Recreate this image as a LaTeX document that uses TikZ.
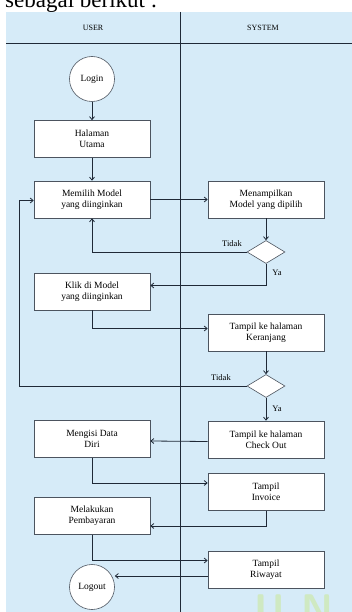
\documentclass[tikz,border=0pt]{standalone}
\usepackage{fontspec}
\setmainfont{Liberation Serif}
\usetikzlibrary{shapes.geometric}
\usetikzlibrary{arrows.meta}

\definecolor{lanebg}{HTML}{D6EBF8}
\definecolor{garis}{HTML}{1F2937}
\definecolor{tanda}{HTML}{CFE9C2}

\tikzset{
  proses/.style={draw=garis!80, line width=0.6pt, fill=white, minimum width=116pt, minimum height=37pt, align=center, inner sep=1pt, font=\fontsize{9.5}{11}\selectfont},
  terminal/.style={circle, draw=garis!80, line width=0.6pt, fill=white, minimum size=45pt, inner sep=0pt, font=\fontsize{9.5}{11}\selectfont},
  keputusan/.style={diamond, draw=garis!80, line width=0.6pt, fill=white, minimum width=38pt, minimum height=23pt, inner sep=0pt},
  alur/.style={draw=garis, line width=0.8pt, -{Straight Barb[length=3pt,width=5pt]}},
  ket/.style={font=\fontsize{8.5}{10}\selectfont, inner sep=1pt},
  logohuruf/.style={font=\fontsize{40}{42}\selectfont\sffamily\bfseries, text=tanda, anchor=base, inner sep=0pt}
}

\begin{document}
\begin{tikzpicture}[x=1pt,y=-1pt]
  \useasboundingbox (0,0) rectangle (352,612);
  \clip (0,0) rectangle (352,612);
  \fill[white] (0,0) rectangle (352,612);
  \node[anchor=base west, inner sep=0pt, font=\fontsize{23}{26}\selectfont] (judul) at (5,8) {sebagai berikut :};
  \fill[lanebg] (6,12) rectangle (352,612);
  \node[logohuruf] (logou) at (270,622) {U};
  \node[logohuruf] (logon) at (317,622) {N};

  % swimlane
  \node[font=\fontsize{8}{9}\selectfont] (user) at (93,28) {USER};
  \node[font=\fontsize{8}{9}\selectfont] (system) at (263,28) {SYSTEM};
  \draw[garis, line width=1pt] (6,43.5) -- (352,43.5);
  \draw[garis, line width=1pt] (180,12) -- (180,612);

  \node[terminal] (login) at (92,79) {Login};
  \node[proses] (utama) at (92,139) {Halaman\\Utama};
  \node[proses] (memilih) at (92,199.5) {Memilih Model\\yang diinginkan};
  \node[proses] (tampilmodel) at (266,199.5) {Menampilkan\\Model yang dipilih};
  \node[keputusan] (cek1) at (266,252) {};
  \node[proses] (klik) at (92,291.5) {Klik di Model\\yang diinginkan};
  \node[proses] (keranjang) at (266,332.5) {Tampil ke halaman\\Keranjang};
  \node[keputusan] (cek2) at (266,386) {};
  \node[proses] (checkout) at (266,439.5) {Tampil ke halaman\\Check Out};
  \node[proses] (mengisi) at (92,439) {Mengisi Data\\Diri};
  \node[proses] (invoice) at (266,492) {Tampil\\Invoice};
  \node[proses] (bayar) at (92,516) {Melakukan\\Pembayaran};
  \node[proses] (riwayat) at (266,569.5) {Tampil\\Riwayat};
  \node[terminal] (logout) at (92,587) {Logout};
  \coordinate (kiri) at (19,0);

  \draw[alur] (login) -- (utama);
  \draw[alur] (utama) -- (memilih);
  \draw[alur] (memilih) -- (tampilmodel);
  \draw[alur] (tampilmodel) -- (cek1);
  \draw[alur] (cek1.west) -| (memilih.south);
  \draw[alur] (cek1.south) |- ([yshift=6pt]klik.east);
  \draw[alur] (klik.south) |- ([yshift=4pt]keranjang.west);
  \draw[alur] (keranjang) -- (cek2);
  \draw[alur] (cek2.west) -- (cek2.west -| kiri) |- ([yshift=-1pt]memilih.west);
  \draw[alur] (cek2) -- (checkout);
  \draw[alur] ([yshift=-2pt]checkout.west) -- ([yshift=-2pt]mengisi.east);
  \draw[alur] (mengisi.south) |- ([yshift=9pt]invoice.west);
  \draw[alur] (invoice.south) |- ([yshift=-10pt]bayar.east);
  \draw[alur] (bayar.south) |- ([yshift=9pt]riwayat.west);
  \draw[alur] ([yshift=-6.5pt]riwayat.west) -- (logout.east |- 0,576);

  \node[ket] (tidak1) at (232,244) {Tidak};
  \node[ket] (ya1) at (277,273) {Ya};
  \node[ket] (tidak2) at (221,378) {Tidak};
  \node[ket] (ya2) at (277,409) {Ya};
\end{tikzpicture}
\end{document}
